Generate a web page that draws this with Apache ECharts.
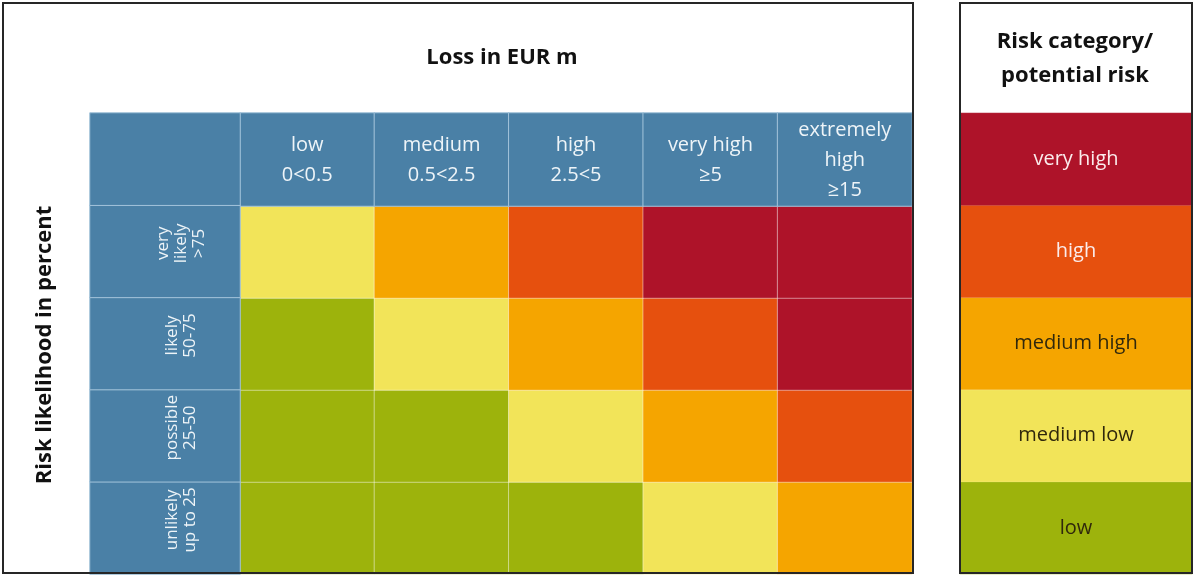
<!DOCTYPE html>
<html>
<head>
<meta charset="utf-8">
<title>Risk matrix</title>
<script src="https://cdn.jsdelivr.net/npm/echarts@6/dist/echarts.min.js"></script>
<style>
  html, body { margin: 0; padding: 0; background: #fff; }
  #chart { width: 1194px; height: 576px; }
</style>
</head>
<body>
<div id="chart"></div>
<script>
var lossCategories = ['low\n0<0.5', 'medium\n0.5<2.5', 'high\n2.5<5', 'very high\n≥5', 'extremely\nhigh\n≥15'];
// bottom to top, last entry is the empty corner cell above the labels
var likelihoodCategories = ['unlikely\nup to 25', 'possible\n25-50', 'likely\n50-75', 'very\nlikely\n>75', ''];
var riskLevels = ['low', 'medium low', 'medium high', 'high', 'very high'];
// risk level of each cell, rows from 'unlikely' up to 'very likely', columns low .. extremely high
var riskMatrix = [
  [0, 0, 0, 1, 2],
  [0, 0, 1, 2, 3],
  [0, 1, 2, 3, 4],
  [1, 2, 3, 4, 4]
];

var riskColors = ['#9db30c', '#f2e459', '#f5a500', '#e6500e', '#ae1329'];
var headerColor = '#4a80a6';
var headerLine = '#a3c3da';
var fontFamily = "'Open Sans', 'Noto Sans', sans-serif";

var chart = echarts.init(document.getElementById('chart'));

var matrixData = [];
riskMatrix.forEach(function (row, y) {
  row.forEach(function (level, x) {
    matrixData.push([x, y, level]);
  });
});

var headerData = lossCategories.map(function (c, i) { return [i, 0, 0]; });
var rowLabelData = likelihoodCategories.map(function (c, i) { return [0, i, 0]; });
var legendData = riskLevels.map(function (r, i) {
  return {
    value: [0, i, i],
    label: { color: i >= 3 ? '#fbecec' : '#30280c' }
  };
});

function hiddenCategory (data, gridIndex) {
  return {
    type: 'category',
    gridIndex: gridIndex,
    data: data,
    show: false,
    splitArea: { show: false }
  };
}

var option = {
  animation: false,
  textStyle: { fontFamily: fontFamily },
  grid: [
    { left: 240, top: 206, width: 672, height: 368 },
    { left: 240, top: 113, width: 672, height: 93 },
    { left: 90, top: 113, width: 150, height: 461 },
    { left: 960, top: 113, width: 232, height: 461 }
  ],
  xAxis: [
    hiddenCategory(lossCategories, 0),
    hiddenCategory(lossCategories, 1),
    hiddenCategory(['likelihood'], 2),
    hiddenCategory(['risk'], 3)
  ],
  yAxis: [
    hiddenCategory(likelihoodCategories.slice(0, 4), 0),
    hiddenCategory(['loss'], 1),
    hiddenCategory(likelihoodCategories, 2),
    hiddenCategory(riskLevels, 3)
  ],
  visualMap: {
    type: 'piecewise',
    show: false,
    dimension: 2,
    seriesIndex: [0, 3],
    pieces: riskColors.map(function (c, i) { return { value: i, color: c }; })
  },
  graphic: [
    {
      type: 'rect', z: 100,
      shape: { x: 3, y: 3, width: 910, height: 570 },
      style: { fill: 'none', stroke: '#262626', lineWidth: 2 }
    },
    {
      type: 'rect', z: 100,
      shape: { x: 960, y: 3, width: 232, height: 570 },
      style: { fill: 'none', stroke: '#262626', lineWidth: 2 }
    },
    {
      type: 'text', x: 502, y: 58,
      style: {
        text: 'Loss in EUR m', fill: '#111', fontSize: 22, fontWeight: 'bold',
        fontFamily: fontFamily, align: 'center', verticalAlign: 'middle'
      }
    },
    {
      type: 'text', x: 45, y: 345, rotation: Math.PI / 2,
      style: {
        text: 'Risk likelihood in percent', fill: '#111', fontSize: 22, fontWeight: 'bold',
        fontFamily: fontFamily, align: 'center', verticalAlign: 'middle'
      }
    },
    {
      type: 'text', x: 1075, y: 59,
      style: {
        text: 'Risk category/\npotential risk', fill: '#111', fontSize: 22, fontWeight: 'bold',
        fontFamily: fontFamily, align: 'center', verticalAlign: 'middle', lineHeight: 34
      }
    }
  ],
  series: [
    {
      name: 'Risk matrix',
      type: 'heatmap',
      xAxisIndex: 0,
      yAxisIndex: 0,
      data: matrixData,
      itemStyle: { borderColor: 'rgba(255,255,255,0.45)', borderWidth: 1 },
      emphasis: { disabled: true }
    },
    {
      name: 'Loss',
      type: 'heatmap',
      xAxisIndex: 1,
      yAxisIndex: 1,
      data: headerData,
      itemStyle: { color: headerColor, borderColor: headerLine, borderWidth: 1 },
      label: {
        show: true,
        color: '#eef4f8',
        fontSize: 20,
        lineHeight: 30,
        offset: [0, 1],
        formatter: function (p) { return lossCategories[p.value[0]]; }
      },
      emphasis: { disabled: true }
    },
    {
      name: 'Likelihood',
      type: 'heatmap',
      xAxisIndex: 2,
      yAxisIndex: 2,
      data: rowLabelData,
      itemStyle: { color: headerColor, borderColor: headerLine, borderWidth: 1 },
      label: {
        show: true,
        color: '#eef4f8',
        fontSize: 17,
        lineHeight: 18,
        rotate: 90,
        // label frame is rotated: [up, right] on screen
        offset: [8, 16],
        formatter: function (p) { return likelihoodCategories[p.value[1]]; }
      },
      emphasis: { disabled: true }
    },
    {
      name: 'Risk category',
      type: 'heatmap',
      xAxisIndex: 3,
      yAxisIndex: 3,
      data: legendData,
      itemStyle: { borderColor: 'rgba(255,255,255,0.25)', borderWidth: 0.5 },
      label: {
        show: true,
        fontSize: 20,
        formatter: function (p) { return riskLevels[p.value[1]]; }
      },
      emphasis: { disabled: true }
    }
  ]
};

chart.setOption(option);
</script>
</body>
</html>
